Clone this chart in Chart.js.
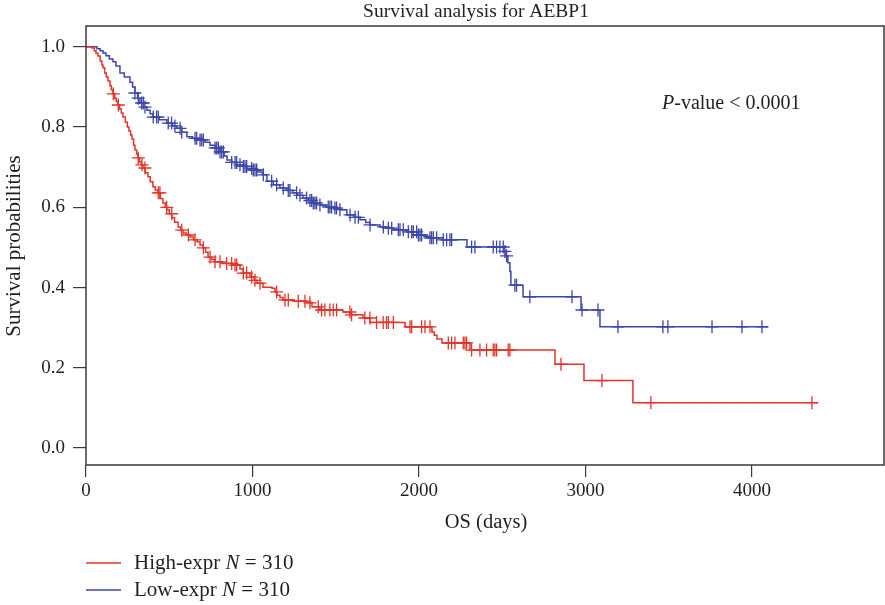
<!DOCTYPE html>
<html>
<head>
<meta charset="utf-8">
<script src="https://cdn.jsdelivr.net/npm/chart.js@4/dist/chart.umd.min.js"></script>
<style>
  html, body { margin: 0; padding: 0; background: #fff; }
  #km { display: block; }
</style>
</head>
<body>
<canvas id="km" width="885" height="605"></canvas>
<script>
// KM step points (time in days, survival after the drop)
var timeHigh = [0, 36, 50, 60, 72, 85, 95, 102, 112, 122, 132, 144, 152, 162, 172, 182, 192, 202, 212, 222,
  236, 248, 258, 268, 276, 286, 294, 304, 312, 322, 332, 342, 356, 372, 386, 402, 416, 432, 446, 462,
  476, 486, 500, 516, 532, 553, 568, 583, 605, 625, 645, 667, 685, 703, 718, 733, 755, 775, 820, 883,
  925, 945, 985, 1010, 1027, 1063, 1117, 1135, 1147, 1165, 1183, 1250, 1327, 1357, 1405, 1543, 1586, 1664, 1706, 1916,
  2078, 2092, 2108, 2138, 2306, 2817, 2991, 3285, 4396];
var survHigh = [1.0, 0.997, 0.990, 0.984, 0.977, 0.965, 0.955, 0.948, 0.935, 0.925, 0.915, 0.903, 0.893, 0.883, 0.872, 0.864, 0.855, 0.845, 0.835, 0.825,
  0.812, 0.800, 0.790, 0.780, 0.770, 0.755, 0.743, 0.733, 0.723, 0.713, 0.706, 0.698, 0.686, 0.676, 0.664, 0.651, 0.643, 0.636, 0.622, 0.611,
  0.600, 0.594, 0.584, 0.574, 0.563, 0.551, 0.543, 0.536, 0.531, 0.526, 0.519, 0.514, 0.506, 0.499, 0.488, 0.476, 0.470, 0.464, 0.460, 0.456,
  0.446, 0.436, 0.426, 0.418, 0.411, 0.401, 0.398, 0.389, 0.381, 0.375, 0.369, 0.366, 0.362, 0.352, 0.344, 0.339, 0.332, 0.324, 0.313, 0.302,
  0.289, 0.281, 0.272, 0.262, 0.244, 0.209, 0.168, 0.113, 0.113];
var censorHigh = [164, 194, 314, 336, 354, 434, 444, 485, 515, 575, 615, 655, 705, 745, 775, 805, 845, 875, 905,
  895, 945, 965, 995, 1015, 1045, 1145, 1195, 1215, 1275, 1315, 1345, 1395, 1415, 1435, 1465, 1485, 1505, 1585, 1595,
  1675, 1705, 1745, 1785, 1805, 1816, 1846, 1946, 1956, 2016, 2036, 2066, 2176, 2196, 2216, 2266, 2276, 2286,
  2316, 2366, 2406, 2446, 2456, 2466, 2536, 2546, 2853, 3099, 3393, 4360];

var timeLow = [0, 66, 85, 102, 120, 140, 162, 180, 204, 230, 264, 280, 294, 310, 324, 345, 366, 385, 402, 440,
  486, 520, 546, 575, 606, 640, 685, 715, 745, 775, 805, 830, 847, 875, 907, 940, 967, 1000, 1027, 1060,
  1087, 1125, 1165, 1205, 1243, 1270, 1303, 1335, 1363, 1405, 1447, 1490, 1525, 1567, 1610, 1646, 1680, 1706, 1766, 1800,
  1844, 1928, 1988, 2030, 2066, 2144, 2288, 2510, 2522, 2534, 2546, 2552, 2625, 2973, 3087, 4096];
var survLow = [1.0, 0.995, 0.990, 0.985, 0.978, 0.970, 0.963, 0.952, 0.935, 0.925, 0.912, 0.900, 0.885, 0.872, 0.860, 0.850, 0.842, 0.833, 0.825, 0.818,
  0.810, 0.803, 0.797, 0.787, 0.776, 0.772, 0.768, 0.762, 0.755, 0.748, 0.738, 0.728, 0.718, 0.712, 0.706, 0.702, 0.697, 0.693, 0.688, 0.681,
  0.665, 0.656, 0.648, 0.642, 0.636, 0.630, 0.623, 0.617, 0.611, 0.606, 0.601, 0.598, 0.594, 0.581, 0.575, 0.569, 0.562, 0.556, 0.551, 0.548,
  0.544, 0.539, 0.531, 0.528, 0.524, 0.519, 0.501, 0.490, 0.479, 0.462, 0.440, 0.406, 0.377, 0.344, 0.302, 0.302];
var censorLow = [294, 314, 334, 344, 354, 404, 424, 434, 494, 514, 534, 565, 575, 655, 665, 685, 695, 705,
  775, 785, 795, 805, 815, 825, 875, 895, 905, 925, 945, 955, 965, 995, 1005, 1015, 1025, 1065,
  1115, 1145, 1185, 1215, 1225, 1265, 1285, 1325, 1345, 1355, 1365, 1375, 1385, 1405, 1455, 1465, 1475, 1495, 1505, 1525,
  1586, 1616, 1636, 1706, 1786, 1816, 1836, 1876, 1886, 1906, 1936, 1956, 1966, 1986, 1996, 2006, 2016,
  2066, 2076, 2086, 2106, 2146, 2166, 2186, 2196, 2316, 2336, 2446, 2466, 2486, 2506, 2516, 2526, 2576, 2586, 2666,
  2919, 2979, 3075, 3195, 3465, 3495, 3760, 3940, 4060];

var xTicks = [0, 1000, 2000, 3000, 4000];
var yTicks = [0.0, 0.2, 0.4, 0.6, 0.8, 1.0];

var RED = '#e2352a';
var BLUE = '#3d47a8';
var FONT = '"Liberation Serif", "DejaVu Serif", serif';
var INK = '#231f20';

function curve(times, surv) {
  return times.map(function(t, i) { return { x: t, y: surv[i] }; });
}
// survival value of the step function at time t
function survAt(times, surv, t) {
  var s = surv[0];
  for (var i = 0; i < times.length; i++) {
    if (times[i] <= t) s = surv[i];
  }
  return s;
}
function marks(censor, times, surv) {
  return censor.map(function(t) { return { x: t, y: survAt(times, surv, t) }; });
}

var textPlugin = {
  id: 'kmText',
  afterDraw: function(chart) {
    var ctx = chart.ctx;
    var a = chart.chartArea;
    ctx.save();
    // box
    ctx.strokeStyle = '#3a3a3a';
    ctx.lineWidth = 1.5;
    ctx.strokeRect(a.left, a.top, a.right - a.left, a.bottom - a.top);

    ctx.fillStyle = INK;
    ctx.textBaseline = 'middle';
    ctx.textAlign = 'center';
    ctx.font = '19.5px ' + FONT;
    ctx.fillText('Survival analysis for AEBP1', 476, 12);

    ctx.font = '20.5px ' + FONT;
    ctx.fillText('OS (days)', 486, 523);

    ctx.save();
    ctx.translate(14, 246);
    ctx.rotate(-Math.PI / 2);
    ctx.font = '21px ' + FONT;
    ctx.fillText('Survival probabilities', 0, 0);
    ctx.restore();

    // p-value
    ctx.textAlign = 'left';
    var x = 662;
    ctx.font = 'italic 20px ' + FONT;
    ctx.fillText('P', x, 104);
    x += ctx.measureText('P').width;
    ctx.font = '20px ' + FONT;
    ctx.fillText('-value < 0.0001', x, 104);

    // legend
    var rows = [
      { color: RED, label: 'High-expr ', y: 563 },
      { color: BLUE, label: 'Low-expr ', y: 590 }
    ];
    rows.forEach(function(r) {
      ctx.strokeStyle = r.color;
      ctx.lineWidth = 1.5;
      ctx.beginPath();
      ctx.moveTo(86, r.y);
      ctx.lineTo(121, r.y);
      ctx.stroke();
      var lx = 134;
      ctx.fillStyle = INK;
      ctx.font = '21px ' + FONT;
      ctx.fillText(r.label, lx, r.y);
      lx += ctx.measureText(r.label).width;
      ctx.font = 'italic 21px ' + FONT;
      ctx.fillText('N', lx, r.y);
      lx += ctx.measureText('N').width;
      ctx.font = '21px ' + FONT;
      ctx.fillText(' = 310', lx, r.y);
    });
    ctx.restore();
  }
};

new Chart(document.getElementById('km'), {
  type: 'scatter',
  data: {
    datasets: [
      { data: curve(timeHigh, survHigh), showLine: true, stepped: true, borderColor: RED, borderWidth: 1.5, pointRadius: 0, fill: false },
      { data: curve(timeLow, survLow), showLine: true, stepped: true, borderColor: BLUE, borderWidth: 1.5, pointRadius: 0, fill: false },
      { data: marks(censorHigh, timeHigh, survHigh), pointStyle: 'cross', pointRadius: 6.5, borderColor: RED, borderWidth: 1.3, backgroundColor: RED },
      { data: marks(censorLow, timeLow, survLow), pointStyle: 'cross', pointRadius: 6.5, borderColor: BLUE, borderWidth: 1.3, backgroundColor: BLUE }
    ]
  },
  options: {
    responsive: false,
    animation: false,
    devicePixelRatio: 1,
    layout: { autoPadding: false, padding: { top: 26, right: 1, left: 0, bottom: 0 } },
    plugins: { legend: { display: false }, tooltip: { enabled: false }, title: { display: false } },
    scales: {
      x: {
        type: 'linear',
        min: 0,
        max: 4793,
        afterFit: function(s) { s.height = 140; s.paddingLeft = 0; s.paddingRight = 0; },
        afterBuildTicks: function(s) { s.ticks = xTicks.map(function(v) { return { value: v }; }); },
        border: { display: false },
        grid: { drawOnChartArea: false, drawTicks: true, tickLength: 12, color: '#3a3a3a', lineWidth: 1.2 },
        ticks: { color: INK, font: { family: FONT, size: 19 }, padding: 3, maxRotation: 0,
          callback: function(v) { return String(v); } }
      },
      y: {
        type: 'linear',
        min: -0.0424,
        max: 1.052,
        afterFit: function(s) { s.width = 86; s.paddingTop = 0; s.paddingBottom = 0; },
        afterBuildTicks: function(s) { s.ticks = yTicks.map(function(v) { return { value: v }; }); },
        border: { display: false },
        grid: { drawOnChartArea: false, drawTicks: true, tickLength: 13, color: '#3a3a3a', lineWidth: 1.2 },
        ticks: { color: INK, font: { family: FONT, size: 19 }, padding: 8,
          callback: function(v) { return v.toFixed(1); } }
      }
    }
  },
  plugins: [textPlugin]
});
</script>
</body>
</html>
